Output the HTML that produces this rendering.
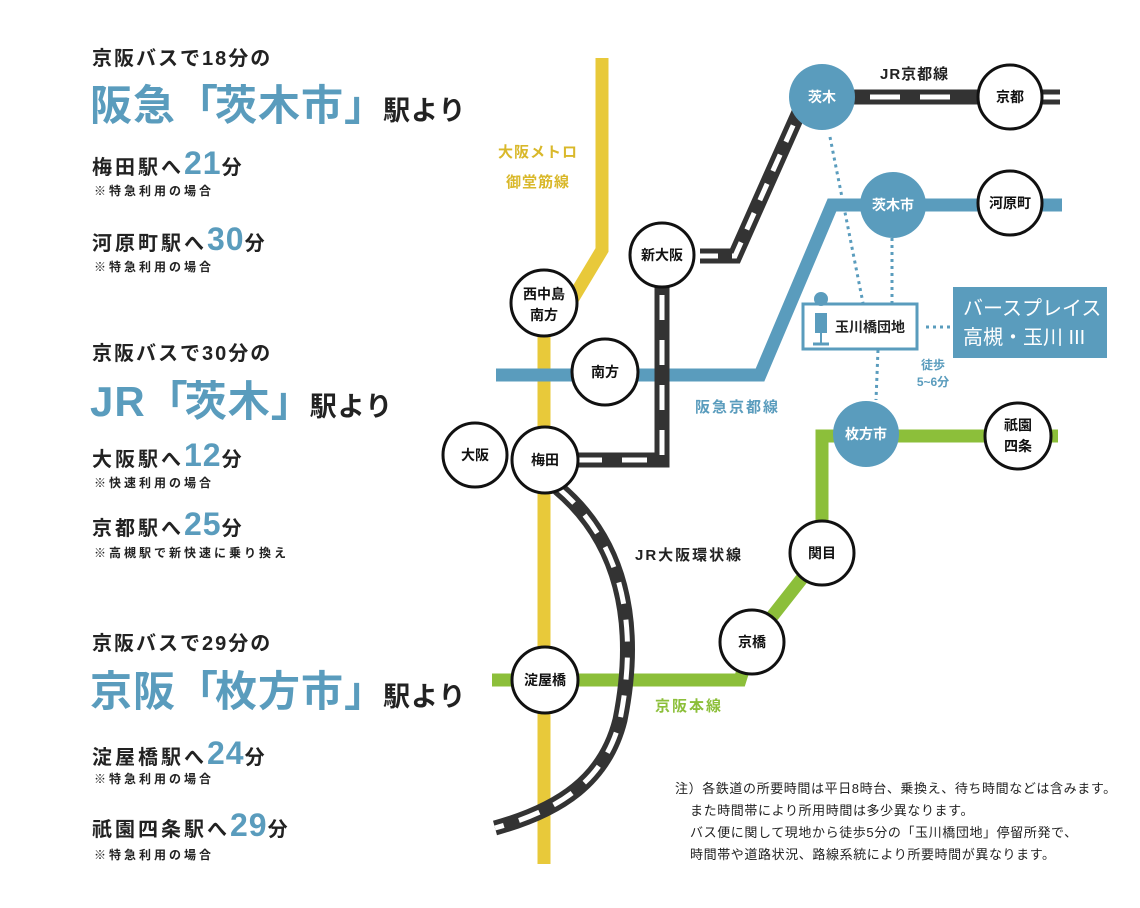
<!DOCTYPE html>
<html><head><meta charset="utf-8"><style>
body{margin:0;background:#fff;}
.w{position:relative;width:1140px;height:908px;overflow:hidden;font-family:"Liberation Sans","Noto Sans CJK JP",sans-serif;color:#222;}
.t{position:absolute;white-space:nowrap;font-weight:bold;}
.h{font-size:20px;letter-spacing:2px;}
.big{font-size:42px;color:#5a9cbd;letter-spacing:1px;}
.big i{font-style:normal;letter-spacing:-3px;}
.big span{font-size:27px;color:#222;letter-spacing:1px;}
.m{font-size:20px;letter-spacing:3px;}
.m b{font-size:32px;color:#5a9cbd;letter-spacing:1px;}
.s{font-size:12px;letter-spacing:3px;}
</style></head><body><div class="w">
<div class="t h" style="left:92px;top:42px">京阪バスで18分の</div>
<div class="t big" style="left:90px;top:72px">阪急<i>「</i>茨木市<i>」</i><span>駅より</span></div>
<div class="t m" style="left:92px;top:145px">梅田駅へ<b>21</b>分</div>
<div class="t s" style="left:94px;top:182px">※特急利用の場合</div>
<div class="t m" style="left:92px;top:221px">河原町駅へ<b>30</b>分</div>
<div class="t s" style="left:94px;top:258px">※特急利用の場合</div>
<div class="t h" style="left:92px;top:337px">京阪バスで30分の</div>
<div class="t big" style="left:90px;top:368px">JR<i>「</i>茨木<i>」</i><span>駅より</span></div>
<div class="t m" style="left:92px;top:437px">大阪駅へ<b>12</b>分</div>
<div class="t s" style="left:94px;top:474px">※快速利用の場合</div>
<div class="t m" style="left:92px;top:506px">京都駅へ<b>25</b>分</div>
<div class="t s" style="left:94px;top:544px">※高槻駅で新快速に乗り換え</div>
<div class="t h" style="left:92px;top:627px">京阪バスで29分の</div>
<div class="t big" style="left:90px;top:658px">京阪<i>「</i>枚方市<i>」</i><span>駅より</span></div>
<div class="t m" style="left:92px;top:735px">淀屋橋駅へ<b>24</b>分</div>
<div class="t s" style="left:94px;top:770px">※特急利用の場合</div>
<div class="t m" style="left:92px;top:807px">祇園四条駅へ<b>29</b>分</div>
<div class="t s" style="left:94px;top:846px">※特急利用の場合</div>

<svg width="1140" height="908" style="position:absolute;left:0;top:0" font-family="Liberation Sans,Noto Sans CJK JP,sans-serif" font-weight="bold">
<polyline points="602,58 602,250 572,300" fill="none" stroke="#e8c93a" stroke-width="13"/>
<line x1="544" y1="300" x2="544" y2="864" stroke="#e8c93a" stroke-width="13"/>
<polyline points="496,375 760,375 832,205 1062,205" fill="none" stroke="#5a9cbd" stroke-width="13"/>
<polyline points="492,680 740,680 752,642 822,553 822,436 1058,436" fill="none" stroke="#8cbf3a" stroke-width="13"/>
<g fill="none" stroke-linejoin="miter">
<polyline points="700,256 735,256 800,110" stroke="#333" stroke-width="15"/>
<polyline points="700,256 735,256 800,110" stroke="#fff" stroke-width="5" stroke-dasharray="18,14"/>
<polyline points="662,285 662,460 575,460" stroke="#333" stroke-width="15"/>
<polyline points="662,295 662,460 575,460" stroke="#fff" stroke-width="5" stroke-dasharray="25,20"/>
<line x1="850" y1="97" x2="1060" y2="97" stroke="#333" stroke-width="15"/>
<line x1="870" y1="97" x2="970" y2="97" stroke="#fff" stroke-width="5" stroke-dasharray="30,20"/>
<line x1="1040" y1="97" x2="1060" y2="97" stroke="#fff" stroke-width="5"/>
<path d="M558,488 C620,540 640,620 620,720 C605,780 560,810 495,828" stroke="#333" stroke-width="15"/>
<path d="M558,488 C620,540 640,620 620,720 C605,780 560,810 495,828" stroke="#fff" stroke-width="5" stroke-dasharray="22,16"/>
</g>
<g stroke="#5a9cbd" stroke-width="3" stroke-dasharray="3,4" fill="none">
<line x1="830" y1="137" x2="863" y2="303"/>
<line x1="892" y1="238" x2="892" y2="303"/>
<line x1="878" y1="350" x2="876" y2="400"/>
<line x1="926" y1="327" x2="950" y2="327"/>
</g>
<g stroke="#111" stroke-width="3" fill="#fff">
<circle cx="1010" cy="97" r="32"/><circle cx="1010" cy="203" r="32"/>
<circle cx="662" cy="255" r="32"/><circle cx="544" cy="303" r="33"/>
<circle cx="605" cy="372" r="33"/><circle cx="475" cy="455" r="32"/>
<circle cx="545" cy="460" r="33"/><circle cx="1018" cy="436" r="33"/>
<circle cx="822" cy="553" r="32"/><circle cx="752" cy="642" r="32"/>
<circle cx="545" cy="680" r="33"/>
</g>
<g fill="#5a9cbd"><circle cx="822" cy="97" r="33"/><circle cx="893" cy="205" r="33"/><circle cx="866" cy="434" r="33"/></g>
<g font-size="14" text-anchor="middle" fill="#111">
<text x="1010" y="102">京都</text><text x="1010" y="208">河原町</text>
<text x="662" y="260">新大阪</text><text x="544" y="299">西中島</text><text x="544" y="320">南方</text>
<text x="605" y="377">南方</text><text x="475" y="460">大阪</text><text x="545" y="465">梅田</text>
<text x="1018" y="430">祇園</text><text x="1018" y="451">四条</text>
<text x="822" y="558">関目</text><text x="752" y="647">京橋</text><text x="545" y="685">淀屋橋</text>
</g>
<g font-size="14" text-anchor="middle" fill="#fff">
<text x="822" y="102">茨木</text><text x="893" y="210">茨木市</text><text x="866" y="439">枚方市</text>
</g>
<rect x="803" y="304" width="114" height="45" fill="#fff" stroke="#5a9cbd" stroke-width="3"/>
<circle cx="821" cy="299" r="7" fill="#5a9cbd"/>
<rect x="815" y="313" width="12" height="20" fill="#5a9cbd"/>
<line x1="821" y1="333" x2="821" y2="343" stroke="#5a9cbd" stroke-width="2"/>
<line x1="813" y1="344" x2="829" y2="344" stroke="#5a9cbd" stroke-width="3"/>
<text x="835" y="332" font-size="14" fill="#222">玉川橋団地</text>
<rect x="953" y="287" width="154" height="71" fill="#5a9cbd"/>
<text x="963" y="315" font-size="20" fill="#fff" font-weight="normal">バースプレイス</text>
<text x="963" y="344" font-size="20" fill="#fff" font-weight="normal">高槻・玉川 III</text>
<text x="933" y="369" font-size="12" fill="#5a9cbd" text-anchor="middle">徒歩</text>
<text x="933" y="386" font-size="12" fill="#5a9cbd" text-anchor="middle">5~6分</text>
<text x="880" y="79" font-size="15" fill="#222" letter-spacing="1">JR京都線</text>
<text x="538" y="157" font-size="15" fill="#d9b82a" text-anchor="middle" letter-spacing="1">大阪メトロ</text>
<text x="538" y="187" font-size="15" fill="#d9b82a" text-anchor="middle" letter-spacing="1">御堂筋線</text>
<text x="695" y="412" font-size="15" fill="#5a9cbd" letter-spacing="2">阪急京都線</text>
<text x="635" y="560" font-size="15" fill="#222" letter-spacing="2">JR大阪環状線</text>
<text x="655" y="711" font-size="15" fill="#8cbf3a" letter-spacing="2">京阪本線</text>
<g font-size="13" font-weight="normal" fill="#222" letter-spacing="0.6">
<text x="675" y="793">注）各鉄道の所要時間は平日8時台、乗換え、待ち時間などは含みます。</text>
<text x="690" y="815">また時間帯により所用時間は多少異なります。</text>
<text x="690" y="837">バス便に関して現地から徒歩5分の「玉川橋団地」停留所発で、</text>
<text x="690" y="859">時間帯や道路状況、路線系統により所要時間が異なります。</text>
</g>
</svg>
</div></body></html>
